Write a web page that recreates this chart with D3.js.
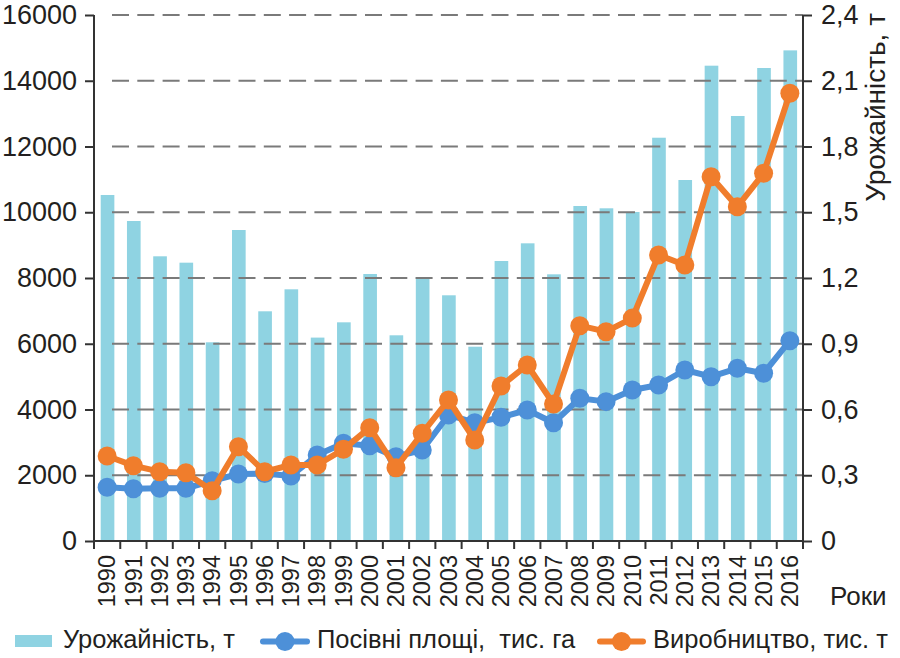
<!DOCTYPE html>
<html>
<head>
    <meta charset="utf-8">
    <script src="https://d3js.org/d3.v7.min.js"></script>
    <style>
        body { margin: 0; background: #fff; }
        text { font-family: "Liberation Sans", Arial, sans-serif; fill: #231f20; }
    </style>
</head>
<body>
    <svg id="chart" width="900" height="658"></svg>

    <script>
        // data
        const years = ["1990", "1991", "1992", "1993", "1994", "1995", "1996", "1997", "1998", "1999",
            "2000", "2001", "2002", "2003", "2004", "2005", "2006", "2007", "2008", "2009",
            "2010", "2011", "2012", "2013", "2014", "2015", "2016"];
        const yieldValues = [10525, 9734, 8660, 8466, 6044, 9460, 6987, 7656, 6187, 6652,
            8122, 6257, 8030, 7474, 5910, 8517, 9055, 8112, 10190, 10120,
            10008, 12267, 10981, 14458, 12928, 14388, 14924];
        const areaValues = [1633, 1591, 1602, 1602, 1830, 2038, 2050, 1977, 2616, 2972,
            2900, 2565, 2768, 3833, 3598, 3762, 3985, 3598, 4341, 4239,
            4593, 4745, 5202, 4999, 5254, 5101, 6093];
        const productionValues = [2586, 2291, 2108, 2078, 1530, 2869, 2108, 2312, 2312, 2789,
            3447, 2230, 3276, 4289, 3072, 4715, 5354, 4167, 6550, 6367,
            6780, 8700, 8396, 11082, 10170, 11184, 13619];

        const leftTicks = [0, 2000, 4000, 6000, 8000, 10000, 12000, 14000, 16000];
        const rightTicks = [0, 0.3, 0.6, 0.9, 1.2, 1.5, 1.8, 2.1, 2.4];

        const legendLabels = ["Урожайність, т", "Посівні площі,  тис. га", "Виробництво, тис. т"];
        const xTitle = "Роки";
        const rightTitle = "Урожайність, т";

        const barColor = "#8fd3e2",
            areaColor = "#4d90d8",
            prodColor = "#f07d2c",
            axisColor = "#333";

        const svg = d3.select("#chart");

        const plotLeft = 94, plotRight = 803, plotTop = 15, plotBottom = 541;

        const x = d3.scaleBand().domain(years).range([plotLeft, plotRight]);
        const y = d3.scaleLinear().domain([0, 16000]).range([plotBottom, plotTop]);
        const yR = d3.scaleLinear().domain([0, 2.4]).range([plotBottom, plotTop]);

        // bars
        const barW = x.bandwidth() * 0.52;
        svg.append("g")
            .selectAll("rect")
            .data(years)
            .join("rect")
            .attr("x", (d) => x(d) + x.bandwidth() / 2 - barW / 2 + 0.4)
            .attr("width", barW)
            .attr("y", (d, i) => y(yieldValues[i]))
            .attr("height", (d, i) => plotBottom - y(yieldValues[i]))
            .attr("fill", barColor);

        // dashed grid on top of the bars
        svg.append("g")
            .selectAll("line")
            .data(leftTicks.filter(d => d > 0))
            .join("line")
            .attr("x1", plotLeft + 18)
            .attr("x2", plotRight)
            .attr("y1", d => y(d))
            .attr("y2", d => y(d))
            .attr("stroke", "#7a7a7a")
            .attr("stroke-width", 2)
            .attr("stroke-dasharray", "17,8.3");

        // left axis
        const yAxis = d3.axisLeft(y).tickValues(leftTicks).tickSize(9).tickPadding(8)
            .tickFormat(d3.format("d"));
        const gL = svg.append("g").attr("transform", `translate(${plotLeft},0)`).call(yAxis);

        // right axis
        const yAxisR = d3.axisRight(yR).tickValues(rightTicks).tickSize(9).tickPadding(9)
            .tickFormat(d => d === 0 ? "0" : d3.format(".1f")(d).replace(".", ","));
        const gR = svg.append("g").attr("transform", `translate(${plotRight},0)`).call(yAxisR);

        [gL, gR].forEach(g => {
            g.attr("font-size", null).attr("font-family", null);
            g.selectAll("text").attr("font-size", "27px").attr("fill", "#231f20");
            g.select(".domain").attr("stroke", axisColor).attr("stroke-width", 2)
                .attr("d", `M0,${plotTop}V${plotBottom}`);
            g.selectAll(".tick line").attr("stroke", axisColor).attr("stroke-width", 2);
        });

        // bottom axis with ticks between the years
        const gX = svg.append("g");
        gX.append("line")
            .attr("x1", plotLeft).attr("x2", plotRight)
            .attr("y1", plotBottom).attr("y2", plotBottom)
            .attr("stroke", axisColor).attr("stroke-width", 2);
        gX.selectAll("line.tk")
            .data(years.concat(["end"]))
            .join("line")
            .attr("class", "tk")
            .attr("x1", (d, i) => plotLeft + i * x.step())
            .attr("x2", (d, i) => plotLeft + i * x.step())
            .attr("y1", plotBottom)
            .attr("y2", plotBottom + 8)
            .attr("stroke", axisColor).attr("stroke-width", 2);
        gX.selectAll("text")
            .data(years)
            .join("text")
            .attr("transform", d => `translate(${x(d) + x.bandwidth() / 2},555) rotate(-90)`)
            .attr("text-anchor", "end")
            .attr("dy", "0.35em")
            .attr("font-size", "23.5px")
            .text(d => d);

        svg.append("text")
            .attr("x", 830).attr("y", 605)
            .attr("font-size", "26px")
            .text(xTitle);

        svg.append("text")
            .attr("transform", "translate(885,13) rotate(-90)")
            .attr("text-anchor", "end")
            .attr("font-size", "28px")
            .text(rightTitle);

        // lines with markers
        function drawSeries(values, color) {
            const line = d3.line()
                .x((d, i) => x(years[i]) + x.bandwidth() / 2)
                .y(d => y(d));
            const g = svg.append("g");
            g.append("path")
                .datum(values)
                .attr("d", line)
                .attr("fill", "none")
                .attr("stroke", color)
                .attr("stroke-width", 6)
                .attr("stroke-linejoin", "round");
            g.selectAll("circle")
                .data(values)
                .join("circle")
                .attr("cx", (d, i) => x(years[i]) + x.bandwidth() / 2)
                .attr("cy", d => y(d))
                .attr("r", 9.5)
                .attr("fill", color);
        }
        drawSeries(areaValues, areaColor);
        drawSeries(productionValues, prodColor);

        // legend
        const legend = svg.append("g");
        legend.append("rect")
            .attr("x", 15).attr("y", 635).attr("width", 37).attr("height", 12)
            .attr("fill", barColor);
        legend.append("text").attr("x", 63).attr("y", 648).attr("font-size", "25.5px")
            .text(legendLabels[0]);

        const legendLines = [
            { x1: 263, x2: 307, tx: 317, color: areaColor, label: legendLabels[1] },
            { x1: 600, x2: 643, tx: 653, color: prodColor, label: legendLabels[2] }
        ];
        legendLines.forEach(d => {
            legend.append("line")
                .attr("x1", d.x1).attr("x2", d.x2)
                .attr("y1", 641.5).attr("y2", 641.5)
                .attr("stroke", d.color).attr("stroke-width", 6)
                .attr("stroke-linecap", "round");
            legend.append("circle")
                .attr("cx", (d.x1 + d.x2) / 2).attr("cy", 641.5).attr("r", 9.5)
                .attr("fill", d.color);
            legend.append("text").attr("x", d.tx).attr("y", 648).attr("font-size", "25.5px")
                .style("white-space", "pre")
                .text(d.label);
        });
    </script>
</body>
</html>
